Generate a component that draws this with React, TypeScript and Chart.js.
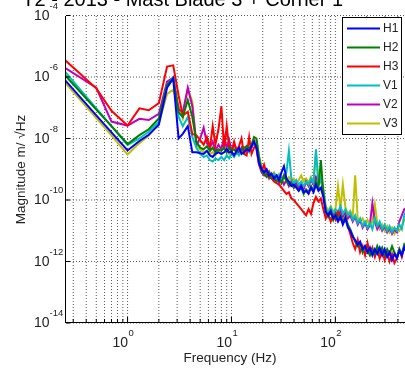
import { useEffect, useRef } from 'react';
import { Chart, registerables } from 'chart.js';

Chart.register(...registerables);

const FONT = '"Liberation Sans", Arial, Helvetica, sans-serif';

// Frequency bins (Hz) shared by all six spectra
const freqHz = [
  0.25, 0.5, 0.7, 1.0, 1.3, 1.6, 2.0, 2.4, 2.75, 3.1, 3.4, 3.8, 4.2,
  4.6, 5.0, 5.4, 5.8, 6.2, 6.6, 7.0, 7.5, 8.0, 8.5,
  9.0, 9.5, 10, 10.6, 11.2, 11.8, 12.5, 13.2, 14, 14.8,
  15.6, 16.5, 17.4, 18.4, 19.5, 20.6, 21.8, 23, 24.3, 25.7,
  27.2, 28.7, 30.3, 32, 33.8, 35.7, 37.7, 39.8, 42, 44.4,
  46.9, 49.5, 52.3, 55.2, 58.3, 61.6, 65, 68.7, 72.5, 76.6,
  80.9, 85.4, 90.2, 95.3, 100.6, 106, 112, 118, 125, 132,
  139, 147, 155, 164, 173, 183, 193, 204, 215, 227,
  240, 253, 267, 282, 298, 315, 332, 351, 370, 391,
  413, 436, 460, 486, 500,
];

// Spectral magnitude per channel, stored as log10(m/√Hz)
const h1Exp = [
  -6.10, -7.25, -7.80, -8.39, -8.08, -7.88, -7.55, -6.35, -6.05, -8.00, -7.85, -7.60, -8.45,
  -8.45, -8.48, -8.50, -8.40, -8.55, -8.60, -8.50, -8.45, -8.50, -8.45,
  -8.35, -8.45, -8.42, -8.55, -8.40, -8.30, -8.50, -8.45, -8.35, -8.40,
  -8.25, -8.10, -8.30, -8.80, -9.00, -9.10, -9.00, -9.20, -9.15, -9.30,
  -9.20, -9.35, -9.10, -8.90, -9.30, -9.40, -9.55, -9.50, -9.60, -9.70,
  -9.55, -9.75, -9.70, -9.80, -9.60, -9.75, -9.50, -9.70, -9.60, -9.90,
  -10.40, -10.50, -10.35, -10.60, -10.50, -10.70, -10.55, -10.80, -10.60, -10.90,
  -11.00, -11.20, -11.30, -11.45, -11.35, -11.60, -11.50, -11.70, -11.55, -11.80,
  -11.60, -11.75, -11.55, -11.80, -11.60, -11.85, -11.70, -11.95, -11.75, -11.90,
  -11.65, -11.80, -11.55, -11.70, -11.60,
];

const h2Exp = [
  -5.94, -7.06, -7.60, -8.18, -7.89, -7.70, -7.35, -6.25, -6.03, -7.15, -7.30, -6.75, -7.30,
  -8.10, -8.30, -8.35, -8.25, -8.40, -8.30, -8.45, -8.35, -8.40, -8.30,
  -8.45, -8.30, -8.40, -8.35, -8.45, -8.30, -8.40, -8.30, -8.25, -8.35,
  -8.20, -7.95, -8.00, -8.60, -9.05, -9.15, -9.25, -9.10, -9.30, -9.25,
  -9.40, -9.30, -9.45, -9.20, -9.40, -9.50, -9.45, -9.60, -9.55, -9.70,
  -9.60, -9.80, -9.65, -9.75, -9.55, -9.70, -9.40, -9.60, -8.70, -9.80,
  -10.35, -10.55, -10.40, -10.65, -10.45, -10.60, -10.50, -10.70, -10.55, -10.80,
  -10.95, -11.15, -11.35, -11.50, -11.40, -11.70, -11.50, -11.65, -11.80, -11.60,
  -11.75, -11.50, -11.70, -11.55, -11.80, -11.60, -11.75, -11.50, -11.70, -11.85,
  -11.60, -11.75, -11.45, -11.60, -11.50,
];

const h3Exp = [
  -5.45, -6.37, -7.10, -7.58, -7.02, -7.08, -6.85, -5.66, -5.62, -6.60, -7.25, -7.13, -7.85,
  -7.90, -8.05, -8.20, -7.95, -8.30, -7.60, -8.20, -7.70, -6.95, -8.35,
  -7.60, -8.30, -8.45, -8.10, -8.40, -8.25, -8.00, -8.50, -8.55, -7.95,
  -8.50, -8.30, -8.20, -8.75, -9.05, -8.85, -9.15, -9.25, -9.30, -9.40,
  -9.45, -9.50, -9.60, -9.70, -9.80, -9.75, -9.95, -10.00, -10.10, -10.20,
  -10.30, -10.40, -10.50, -10.30, -10.45, -10.10, -9.90, -10.05, -9.95, -10.30,
  -10.60, -10.45, -10.70, -10.50, -10.65, -10.40, -10.60, -10.75, -10.55, -10.85,
  -11.10, -11.40, -11.60, -11.30, -11.70, -11.50, -11.80, -11.40, -11.75, -11.55,
  -11.85, -11.60, -11.90, -11.65, -11.95, -11.70, -12.00, -11.75, -12.05, -11.90,
  -11.60, -11.85, -11.50, -11.70, -11.60,
];

const v1Exp = [
  -5.83, -7.02, -7.60, -8.21, -8.00, -7.78, -7.45, -6.25, -6.01, -7.30, -7.60, -7.30, -7.95,
  -8.30, -8.50, -8.60, -8.55, -8.70, -8.75, -8.65, -8.70, -8.60, -8.70,
  -8.55, -8.65, -8.50, -8.60, -8.45, -8.55, -8.40, -8.50, -8.35, -8.45,
  -8.25, -8.15, -8.25, -8.70, -8.95, -9.05, -9.20, -9.10, -9.25, -9.15,
  -9.30, -9.20, -9.35, -9.25, -9.10, -8.40, -9.30, -9.45, -9.35, -9.50,
  -9.40, -9.55, -9.40, -9.50, -9.30, -9.45, -8.35, -9.50, -9.30, -9.70,
  -10.30, -10.40, -10.25, -10.45, -10.30, -10.40, -10.20, -10.45, -10.30, -10.50,
  -10.40, -10.65, -10.50, -10.75, -10.60, -10.85, -10.70, -10.90, -10.75, -10.95,
  -10.60, -10.85, -10.70, -10.95, -10.80, -11.00, -10.85, -11.05, -10.90, -11.00,
  -10.80, -10.95, -10.50, -10.30, -10.40,
];

const v2Exp = [
  -5.70, -6.35, -7.45, -7.58, -7.36, -7.40, -7.20, -6.15, -6.02, -7.05, -7.15, -6.35, -6.95,
  -8.20, -8.00, -7.65, -8.15, -8.30, -8.10, -8.40, -8.20, -8.35, -7.95,
  -8.30, -8.05, -8.40, -8.20, -8.35, -8.50, -8.30, -8.45, -8.25, -8.35,
  -8.30, -8.10, -8.35, -8.85, -9.10, -9.20, -9.10, -9.30, -9.15, -9.35,
  -9.25, -9.45, -9.30, -9.50, -9.35, -9.55, -9.40, -9.60, -9.45, -9.60,
  -9.50, -9.65, -9.40, -9.55, -9.35, -9.50, -9.25, -9.45, -9.35, -9.75,
  -10.35, -10.50, -10.30, -10.55, -10.40, -10.50, -10.35, -10.55, -10.40, -10.60,
  -10.50, -10.70, -10.55, -10.80, -10.65, -10.90, -10.75, -10.95, -10.80, -10.10,
  -10.70, -10.95, -10.80, -11.00, -10.85, -11.05, -10.90, -11.10, -10.95, -11.05,
  -10.70, -10.50, -10.30, -10.25, -10.35,
];

const v3Exp = [
  -6.18, -7.34, -7.90, -8.52, -8.15, -7.90, -7.50, -6.55, -6.42, -6.95, -7.35, -6.37, -6.80,
  -8.20, -8.35, -8.45, -8.40, -8.50, -8.45, -8.55, -8.40, -8.50, -8.45,
  -8.40, -8.50, -8.45, -8.55, -8.50, -8.40, -8.50, -8.35, -8.40, -8.30,
  -8.25, -8.10, -8.05, -8.55, -8.90, -9.05, -9.15, -9.05, -9.20, -9.10,
  -9.25, -9.15, -9.30, -9.20, -9.35, -9.25, -9.40, -9.30, -9.45, -9.35,
  -9.20, -9.40, -9.30, -9.45, -9.25, -9.40, -8.50, -9.35, -9.20, -9.60,
  -10.20, -10.35, -10.20, -10.40, -10.25, -9.55, -10.30, -9.50, -10.25, -10.45,
  -10.35, -10.55, -9.20, -10.60, -10.70, -10.60, -10.80, -10.65, -10.85, -10.70,
  -10.15, -10.75, -10.95, -10.80, -11.00, -10.85, -11.05, -10.90, -11.10, -10.95,
  -11.00, -10.85, -10.65, -10.60, -10.70,
];

const seriesNames = ['H1', 'H2', 'H3', 'V1', 'V2', 'V3'];
const seriesExps = [h1Exp, h2Exp, h3Exp, v1Exp, v2Exp, v3Exp];
const seriesColors = ['#0000ff', '#008000', '#ff0000', '#00bfbf', '#bf00bf', '#bfbf00'];

// Axis ranges, grid positions and labelled decades
const xRange = [0.25, 500];
const yRange = [1e-14, 1e-4];
const xGridValues = [
  0.3, 0.4, 0.5, 0.6, 0.7, 0.8, 0.9,
  1, 2, 3, 4, 5, 6, 7, 8, 9,
  10, 20, 30, 40, 50, 60, 70, 80, 90,
  100, 200, 300, 400, 500,
];
const xTickExps = [0, 1, 2];
const yTickExps = [-14, -12, -10, -8, -6, -4];

const titleText = 'T2 - 2013 - Mast Blade 3 + Corner 1';
const xTitle = 'Frequency (Hz)';
const yTitle = 'Magnitude m/ \u221AHz';

const decorations = {
  id: 'decorations',
  beforeDatasetsDraw(chart: any) {
    const { ctx, chartArea: a, scales } = chart;
    const x = scales.x;
    const y = scales.y;
    ctx.save();
    ctx.fillStyle = '#5a5a5a';
    for (const v of xGridValues) {
      const px = x.getPixelForValue(v);
      for (let py = Math.round(a.top); py < a.bottom; py += 3) ctx.fillRect(px - 0.5, py, 1, 1);
    }
    for (const e of yTickExps) {
      const py = y.getPixelForValue(Math.pow(10, e));
      for (let px = Math.round(a.left) + 2; px < a.right; px += 3) ctx.fillRect(px, py - 0.5, 1, 1);
    }
    ctx.restore();
  },
  afterDraw(chart: any) {
    const { ctx, chartArea: a, scales } = chart;
    const x = scales.x;
    const y = scales.y;
    const left = Math.round(a.left);
    const bottomRow = Math.round(a.bottom) - 1;
    ctx.save();

    // axis lines
    ctx.fillStyle = '#000';
    ctx.fillRect(left, Math.round(a.top), 1, bottomRow - Math.round(a.top) + 1);
    ctx.fillRect(left, bottomRow, a.right - left, 1);

    // inward tick marks
    for (const v of xGridValues) {
      const px = x.getPixelForValue(v);
      const major = Math.abs(Math.log10(v) - Math.round(Math.log10(v))) < 1e-9;
      const len = major ? 5 : 3;
      ctx.fillRect(px - 0.5, bottomRow - len, 1, len);
    }
    for (const e of yTickExps) {
      const py = y.getPixelForValue(Math.pow(10, e));
      ctx.fillRect(left + 1, py - 0.5, 4, 1);
    }

    // tick labels as 10 with a raised exponent
    ctx.fillStyle = '#222';
    for (const e of yTickExps) {
      const py = y.getPixelForValue(Math.pow(10, e));
      ctx.font = `14px ${FONT}`;
      ctx.textAlign = 'right';
      ctx.textBaseline = 'middle';
      ctx.fillText('10', 49.5, py + 0.5);
      ctx.font = `9.5px ${FONT}`;
      ctx.textAlign = 'left';
      ctx.fillText(String(e), 49.5, py - 9.5);
    }
    for (const e of xTickExps) {
      const px = x.getPixelForValue(Math.pow(10, e));
      ctx.font = `14px ${FONT}`;
      ctx.textAlign = 'right';
      ctx.textBaseline = 'middle';
      ctx.fillText('10', px + 0.5, a.bottom + 20);
      ctx.font = `9.5px ${FONT}`;
      ctx.textAlign = 'left';
      ctx.fillText(String(e), px + 1, a.bottom + 10.5);
    }

    // axis titles
    ctx.font = `13.5px ${FONT}`;
    ctx.textAlign = 'center';
    ctx.textBaseline = 'middle';
    ctx.fillText(xTitle, 230, a.bottom + 35.5);
    ctx.save();
    ctx.translate(21, a.top + 154);
    ctx.rotate(-Math.PI / 2);
    ctx.fillText(yTitle, 0, 0);
    ctx.restore();

    // title (mostly above the visible area)
    ctx.fillStyle = '#000';
    ctx.font = `20px ${FONT}`;
    ctx.textAlign = 'right';
    ctx.textBaseline = 'alphabetic';
    ctx.fillText(titleText, 343, a.top - 9.5);

    // legend box
    const bx = 342;
    const by = a.top + 1.5;
    const bw = 60;
    const bh = 118;
    ctx.fillStyle = '#fff';
    ctx.fillRect(bx, by, bw, bh);
    ctx.strokeStyle = '#000';
    ctx.lineWidth = 1;
    ctx.strokeRect(bx + 0.5, by + 0.5, bw - 1, bh - 1);
    seriesNames.forEach((name, i) => {
      const ly = by + 11.5 + i * 19;
      ctx.strokeStyle = seriesColors[i];
      ctx.lineWidth = 2;
      ctx.beginPath();
      ctx.moveTo(bx + 5, ly);
      ctx.lineTo(bx + 38, ly);
      ctx.stroke();
      ctx.fillStyle = '#222';
      ctx.font = `12px ${FONT}`;
      ctx.textAlign = 'left';
      ctx.textBaseline = 'middle';
      ctx.fillText(name, bx + 41, ly + 0.5);
    });
    ctx.restore();
  },
};

export default function App() {
  const canvasRef = useRef<HTMLCanvasElement>(null);

  useEffect(() => {
    const canvas = canvasRef.current;
    if (!canvas) return;
    const chart = new Chart(canvas, {
      type: 'line',
      data: {
        datasets: seriesNames.map((name, i) => ({
          label: name,
          data: freqHz.map((f, k) => ({ x: f, y: Math.pow(10, seriesExps[i][k]) })),
          borderColor: seriesColors[i],
          backgroundColor: seriesColors[i],
          borderWidth: 2,
          pointRadius: 0,
          tension: 0,
          fill: false,
        })),
      },
      options: {
        animation: false,
        responsive: false,
        devicePixelRatio: 1,
        events: [],
        layout: { padding: { top: 35.5, right: 12, left: 0, bottom: 0 } },
        plugins: {
          legend: { display: false },
          tooltip: { enabled: false },
          title: { display: false },
        },
        scales: {
          x: {
            type: 'logarithmic',
            min: xRange[0],
            max: xRange[1],
            grid: { display: false },
            border: { display: false },
            ticks: { display: false },
            afterFit: (s: any) => { s.height = 47; },
          },
          y: {
            type: 'logarithmic',
            min: yRange[0],
            max: yRange[1],
            grid: { display: false },
            border: { display: false },
            ticks: { display: false },
            afterFit: (s: any) => { s.width = 65; },
          },
        },
      },
      plugins: [decorations],
    } as any);
    return () => chart.destroy();
  }, []);

  return (
    <div
      style={{
        position: 'fixed',
        left: 0,
        top: 0,
        width: 405,
        height: 370,
        overflow: 'hidden',
        background: '#fff',
      }}
    >
      <canvas
        ref={canvasRef}
        width={420}
        height={390}
        style={{ position: 'absolute', left: 0, top: -20, width: 420, height: 390 }}
      />
    </div>
  );
}
